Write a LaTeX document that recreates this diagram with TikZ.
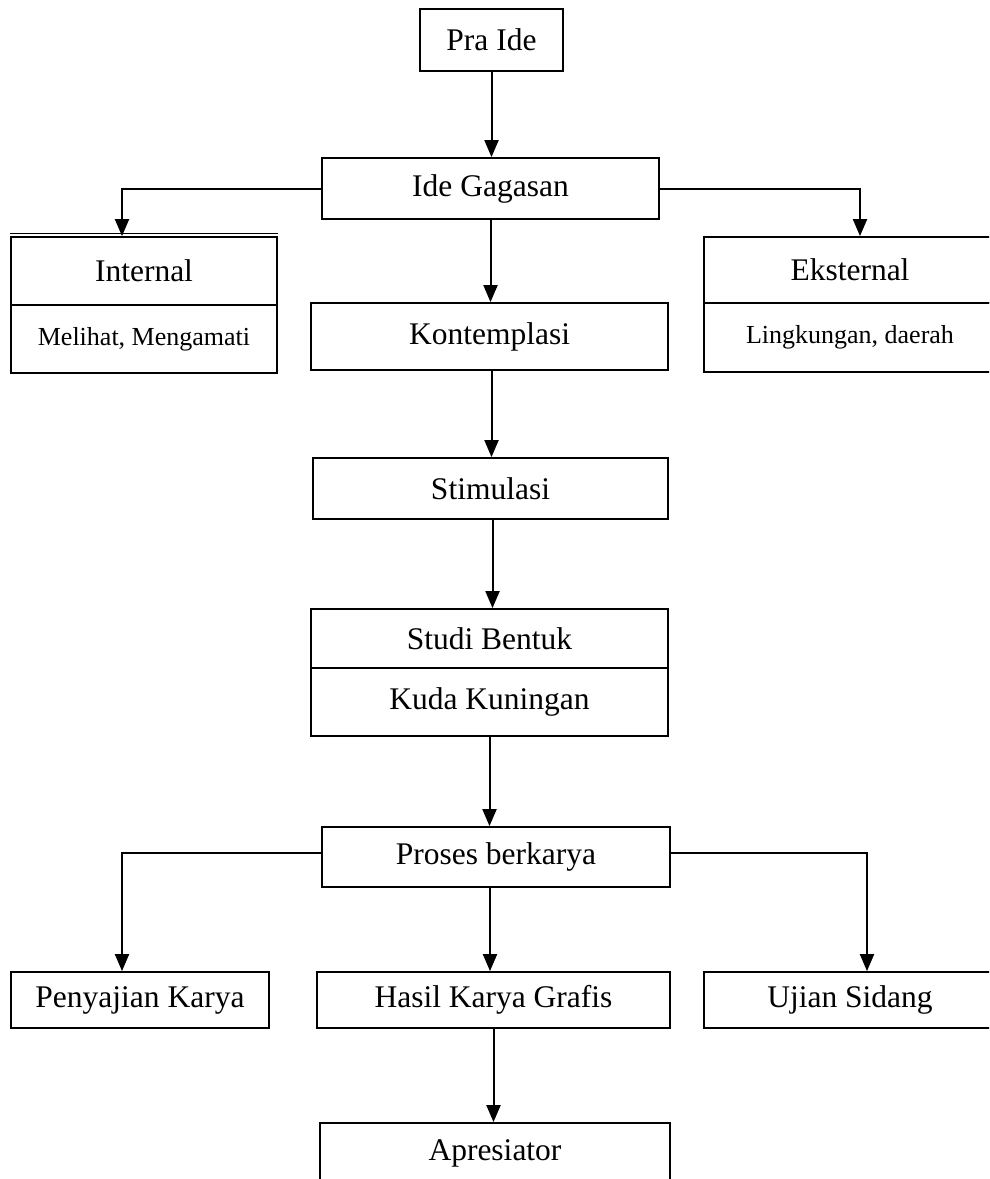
\documentclass[tikz,border=0pt]{standalone}
\usepackage{fontspec}
\setmainfont{Liberation Serif}
\usetikzlibrary{arrows.meta, positioning, calc}

\begin{document}
\begin{tikzpicture}[
    x=1pt, y=-1pt,
    kotak/.style={draw, line width=1.8pt, inner sep=0pt, font=\fontsize{31.5}{36}\selectfont},
    kecil/.style={kotak, font=\fontsize{26}{30}\selectfont},
    panah/.style={-{Triangle[length=17pt, width=14pt]}, line width=2pt}
]
\useasboundingbox (0,0) rectangle (989,1179);
\clip (0,0) rectangle (989,1179);

% Alur utama
\node[kotak, minimum width=143pt, minimum height=62pt] (pra) at (491.5, 40) {Pra Ide};
\node[kotak, minimum width=337pt, minimum height=61pt] (ide) at (490.5, 188.5) {Ide Gagasan};
\node[kotak, minimum width=357pt, minimum height=67pt] (kon) at (489.5, 336.5) {Kontemplasi};
\node[kotak, minimum width=355pt, minimum height=61pt] (sti) at (490.5, 488.5) {Stimulasi};
\node[kotak, minimum width=357pt, minimum height=59pt] (stu) at (489.5, 638.5) {Studi Bentuk};
\node[kotak, minimum width=357pt, minimum height=68pt] (kud) at (489.5, 702) {Kuda Kuningan};
\node[kotak, minimum width=348pt, minimum height=60pt] (pro) at (496, 857) {Proses berkarya};

% Internal dan eksternal
\node[kotak, minimum width=266pt, minimum height=68pt] (int) at (144, 271) {Internal};
\node[kecil, minimum width=266pt, minimum height=68pt] (intb) at (144, 339) {Melihat, Mengamati};
\draw[line width=0.8pt] ([yshift=3pt]int.north west) -- ([yshift=3pt]int.north east);
\node[kotak, minimum width=292pt, minimum height=66pt] (eks) at (850, 270) {Eksternal};
\node[kecil, minimum width=292pt, minimum height=69pt] (eksb) at (850, 337.5) {Lingkungan, daerah};

% Baris bawah
\node[kotak, minimum width=258pt, minimum height=56pt] (pen) at (140, 1000) {Penyajian Karya};
\node[kotak, minimum width=353pt, minimum height=56pt] (has) at (493.5, 1000) {Hasil Karya Grafis};
\node[kotak, minimum width=292pt, minimum height=56pt] (uji) at (850, 1000) {Ujian Sidang};
\node[kotak, minimum width=350pt, minimum height=60pt] (apr) at (495, 1153) {Apresiator};

% Panah
\draw[panah] (pra.south) -- (pra.south |- ide.north);
\draw[panah] (ide.south) -- (ide.south |- kon.north);
\draw[panah] ([xshift=2pt]kon.south) -- ([xshift=2pt]kon.south |- sti.north);
\draw[panah] ([xshift=2pt]sti.south) -- ([xshift=2pt]sti.south |- stu.north);
\draw[panah] (kud.south) -- (kud.south |- pro.north);
\draw[panah] ([xshift=-6pt]pro.south) -- ([xshift=-6pt]pro.south |- has.north);
\draw[panah] (has.south) -- (has.south |- apr.north);
\draw[panah] (ide.west) -| ([xshift=-22pt]int.north);
\draw[panah] (ide.east) -| ([xshift=10pt]eks.north);
\draw[panah] ([yshift=4pt]pro.west) -| ([xshift=-18pt]pen.north);
\draw[panah] ([yshift=4pt]pro.east) -| ([xshift=17pt]uji.north);

\end{tikzpicture}
\end{document}
